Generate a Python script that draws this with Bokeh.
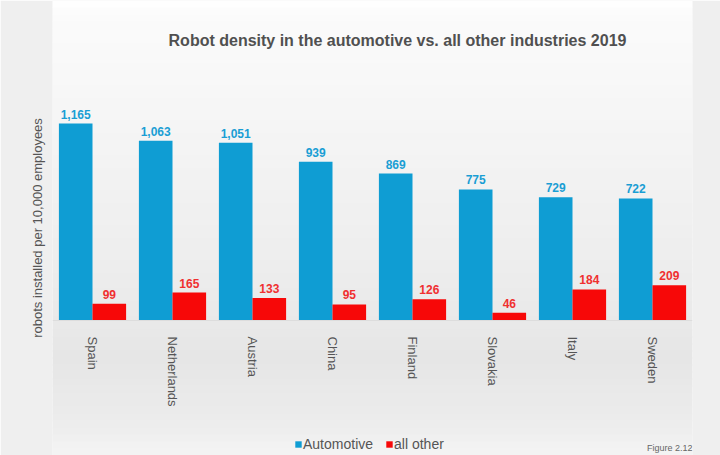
from bokeh.plotting import figure
from bokeh.models import (FactorRange, Range1d, Label, Legend, LegendItem, ColumnDataSource,
                          BoxAnnotation)
from bokeh.transform import dodge
from bokeh.embed import file_html
from bokeh.resources import INLINE
from bokeh.core.properties import value

countries = ["Spain", "Netherlands", "Austria", "China", "Finland", "Slovakia", "Italy", "Sweden"]
automotive = [1165, 1063, 1051, 939, 869, 775, 729, 722]
all_other = [99, 165, 133, 95, 126, 46, 184, 209]
auto_labels = ["1,165", "1,063", "1,051", "939", "869", "775", "729", "722"]
other_labels = [str(v) for v in all_other]

BLUE = "#0f9dd3"
RED = "#f70808"
GREY = "#555555"
FONT = "Liberation Sans"

W, H = 720, 455
BASE_PX = 320            # baseline position from top (pixels)
PX_PER_UNIT = 197 / 1165  # vertical scale

src = ColumnDataSource(dict(c=countries, a=automotive, o=all_other, al=auto_labels, ol=other_labels))

p = figure(width=W, height=H, x_range=FactorRange(*countries, range_padding=0),
           y_range=Range1d(-(H - BASE_PX) / PX_PER_UNIT, BASE_PX / PX_PER_UNIT),
           output_backend="svg", toolbar_location=None,
           min_border_left=52, min_border_right=28, min_border_top=0, min_border_bottom=0)
p.background_fill_color = "#f2f2f2"
p.border_fill_color = "#efefef"
p.outline_line_color = None
p.grid.grid_line_color = None

# soft vertical background gradient (decoration)
stops = [(0, (255, 255, 255)), (12, (251, 251, 251)), (110, (246, 246, 246)),
         (250, (238, 238, 238)), (360, (230, 230, 230)), (420, (236, 236, 236)), (455, (244, 244, 244))]
def col_at(py):
    for (y0, c0), (y1, c1) in zip(stops[:-1], stops[1:]):
        if y0 <= py <= y1:
            t = (py - y0) / (y1 - y0) if y1 > y0 else 0
            return "#%02x%02x%02x" % tuple(int(round(a + (b - a) * t)) for a, b in zip(c0, c1))
    return "#f2f2f2"
step = 7
for py in range(0, H, step):
    p.add_layout(BoxAnnotation(top=H - py, bottom=H - py - step - 1, top_units="screen",
                               bottom_units="screen", fill_color=col_at(py + step / 2),
                               fill_alpha=1, line_color=None, level="underlay"))

rb = p.vbar(x=dodge("c", -0.21, range=p.x_range), top="a", width=0.42, source=src,
            fill_color=BLUE, line_color=None)
rr = p.vbar(x=dodge("c", 0.21, range=p.x_range), top="o", width=0.42, source=src,
            fill_color=RED, line_color=None)

p.text(x=dodge("c", -0.21, range=p.x_range), y="a", text="al", source=src, y_offset=-5,
       text_align="center", text_baseline="bottom", text_color="#1a9ed4",
       text_font=value(FONT), text_font_size="12px", text_font_style="bold")
p.text(x=dodge("c", 0.21, range=p.x_range), y="o", text="ol", source=src, y_offset=-5,
       text_align="center", text_baseline="bottom", text_color="#f03030",
       text_font=value(FONT), text_font_size="12px", text_font_style="bold")

xa = p.xaxis[0]
xa.fixed_location = 0
xa.major_label_orientation = "vertical"
xa.major_label_text_font = FONT
xa.major_label_text_font_size = "13px"
xa.major_label_text_color = GREY
xa.major_tick_line_color = None
xa.minor_tick_line_color = None
xa.axis_line_color = "#dddddd"
xa.major_label_standoff = 10

ya = p.yaxis[0]
ya.axis_label = "robots installed per 10,000 employees"
ya.axis_label_text_font = FONT
ya.axis_label_text_font_size = "13px"
ya.axis_label_text_font_style = "normal"
ya.axis_label_text_color = GREY
ya.axis_label_standoff = 8
ya.major_label_text_font_size = "0px"
ya.major_tick_line_color = None
ya.minor_tick_line_color = None
ya.axis_line_color = None
ya.ticker = []

p.add_layout(Label(x=345, y=H - 40, x_units="screen", y_units="screen",
                   text="Robot density in the automotive vs. all other industries 2019",
                   text_align="center", text_baseline="middle", text_font=FONT,
                   text_font_size="16px", text_font_style="bold", text_color="#505050"))
p.add_layout(Label(x=640, y=H - 447, x_units="screen", y_units="screen", text="Figure 2.12",
                   text_align="right", text_baseline="middle", text_font=FONT,
                   text_font_size="9px", text_color="#666666"))

legend = Legend(items=[LegendItem(label="Automotive", renderers=[rb]),
                       LegendItem(label="all other", renderers=[rr])],
                orientation="horizontal", location=(242, 3),
                background_fill_alpha=0, border_line_color=None,
                label_text_font=FONT, label_text_font_size="14px",
                label_text_color=GREY, glyph_width=8, glyph_height=8, spacing=12,
                label_standoff=1, padding=0, margin=0, label_height=16)
p.add_layout(legend)

open("out.html", "w").write(file_html(p, INLINE))
